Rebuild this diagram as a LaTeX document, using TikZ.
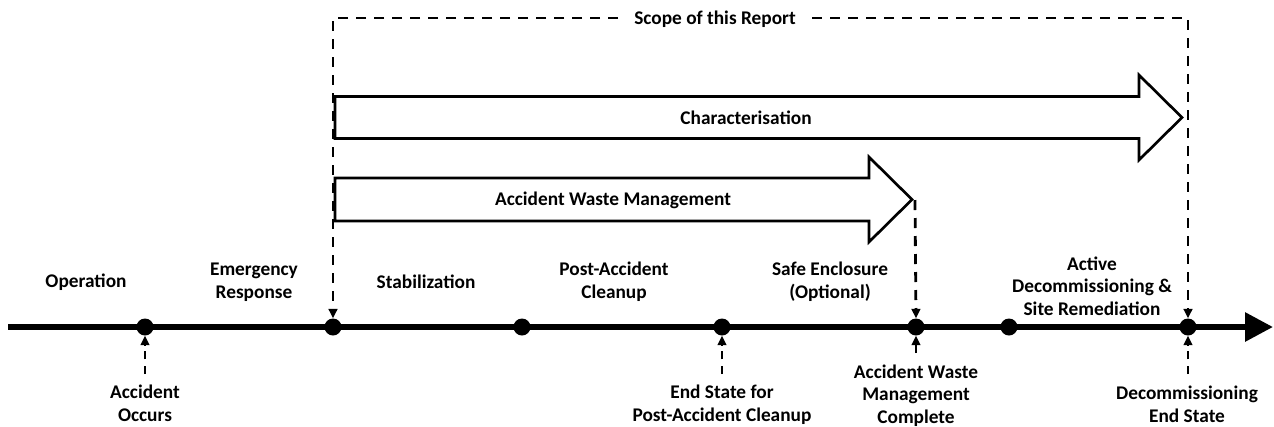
\documentclass[tikz,border=0pt]{standalone}
\usepackage{fontspec}
\setmainfont{Carlito}
\usetikzlibrary{arrows.meta}
\begin{document}
\begin{tikzpicture}[x=0.75pt,y=-0.75pt,
  lbl/.style={font=\fontsize{14.5}{17}\selectfont\bfseries, align=center, inner sep=0pt},
  dot/.style={circle, fill=black, minimum size=12.75pt, inner sep=0pt},
  timeline/.style={line width=4.5pt, -{Triangle[width=21pt,length=21pt]}},
  blockarrow/.style={line width=2pt, line join=miter, fill=white},
  scopeline/.style={line width=2.1pt, dash pattern=on 7.5pt off 6pt, -{Triangle[width=6.5pt,length=7pt]}},
  markline/.style={line width=1.5pt, dash pattern=on 6pt off 5pt, -{Triangle[width=6.5pt,length=7pt]}}
]
\useasboundingbox (0,0) rectangle (1274,426);

% main time axis
\coordinate (axstart) at (8,327);
\coordinate (axend) at (1273,327);
\draw[timeline] (axstart) -- (axend);

% milestones on the axis
\node[dot] (d1) at (145,327) {};
\node[dot] (d2) at (333,327) {};
\node[dot] (d3) at (522,327) {};
\node[dot] (d4) at (722,327) {};
\node[dot] (d5) at (916,327) {};
\node[dot] (d6) at (1009,327) {};
\node[dot] (d7) at (1188,327) {};

% phase names above the axis
\node[lbl] (ph1) at (86,282) {Operation};
\node[lbl] (ph2) at (254,282) {Emergency\\Response};
\node[lbl] (ph3) at (426,282) {Stabilization};
\node[lbl] (ph4) at (614,282) {Post-Accident\\Cleanup};
\node[lbl] (ph5) at (830,282) {Safe Enclosure\\(Optional)};
\node[lbl] (ph6) at (1092,286) {Active\\Decommissioning \&\\Site Remediation};

% events below the axis
\node[lbl] (ev1) at (145,403) {Accident\\Occurs};
\node[lbl] (ev2) at (722,405) {End State for\\Post-Accident Cleanup};
\node[lbl] (ev3) at (916,395.5) {Accident Waste\\Management\\Complete};
\node[lbl] (ev4) at (1187,404.5) {Decommissioning\\End State};

\coordinate (m1) at (145,374);
\coordinate (m2) at (722,374);
\coordinate (m3) at (916,353);
\coordinate (m4) at (1188,374);
\draw[markline] (m1) -- (d1.south);
\draw[markline] (m2) -- (d4.south);
\draw[markline] (m3) -- (d5.south);
\draw[markline] (m4) -- (d7.south);

% scope bracket
\node[lbl, inner xsep=12pt] (scope) at (715,19) {Scope of this Report};
\coordinate (scTL) at (333,18);
\coordinate (scTR) at (1188,18);
\draw[scopeline] (scope.west |- scTL) -- (scTL) -- (d2.north);
\draw[scopeline] (scope.east |- scTR) -- (scTR) -- (d7.north);

% work streams
\draw[blockarrow] (335,96.5) -- (1139,96.5) -- (1139,75) -- (1182,117.5)
  -- (1139,160) -- (1139,138.5) -- (335,138.5) -- cycle;
\node[lbl] (char) at (746,118) {Characterisation};

\draw[blockarrow] (335,178) -- (869,178) -- (869,157) -- (912,199.5)
  -- (869,242) -- (869,221) -- (335,221) -- cycle;
\node[lbl] (awm) at (613,200) {Accident Waste Management};

\coordinate (awmtip) at (915,200);
\draw[scopeline] (awmtip) -- (d5.north);
\end{tikzpicture}
\end{document}
